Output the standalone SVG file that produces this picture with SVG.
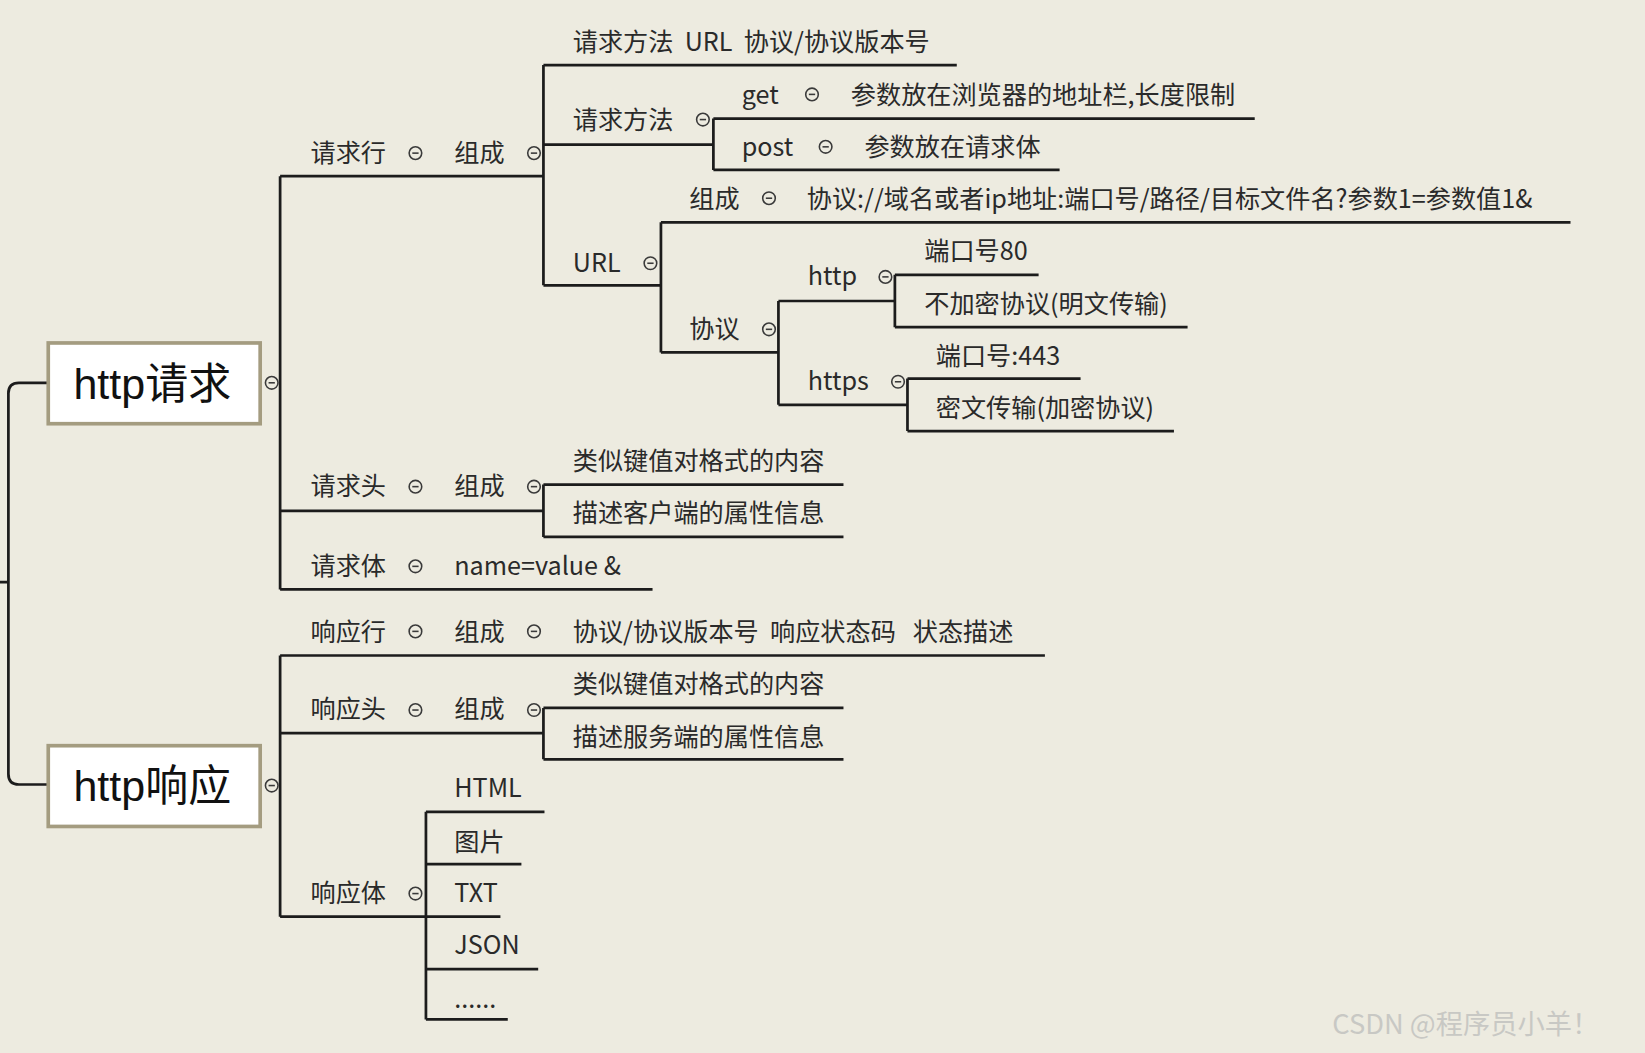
<svg xmlns="http://www.w3.org/2000/svg" xmlns:xlink="http://www.w3.org/1999/xlink" width="1645" height="1053" viewBox="0 0 1645 1053">
<style>
.t{font-family:"Noto Sans CJK SC","Liberation Sans",sans-serif;font-size:24px;fill:#2a2a2a}
.b{font-family:"Liberation Sans","Noto Sans CJK SC",sans-serif;font-size:41px;fill:#111}
.l{stroke:#1c1c1c;stroke-width:2.6;fill:none}
.box{fill:#fff;stroke:#a49c80;stroke-width:3.5}
.c{fill:none;stroke:#3a3a3a;stroke-width:1.5}
</style>
<defs>
<g id="c"><circle class="c" r="6"/><line class="c" x1="-3" x2="3" y1="0" y2="0"/></g>
</defs>
<rect width="1645" height="1053" fill="#edebe0"/>
<g transform="scale(1.0491,1.0488)">
<g id="connectors">
<path class="l" d="M46,365 H18 Q8,365 8,375 V738 Q8,748 18,748 H46 M0,555 H8"/>
<path class="l" d="M267,168 V562 M267,168 H518 M267,487 H518 M267,562 H622"/>
<path class="l" d="M518,62 V272 M518,62 H912 M518,138 H680 M518,272 H630"/>
<path class="l" d="M680,113 V162 M680,113 H1196 M680,162 H1010"/>
<path class="l" d="M630,212 V336 M630,212 H1497 M630,336 H742"/>
<path class="l" d="M742,287 V386 M742,287 H853 M742,386 H865"/>
<path class="l" d="M853,262 V312 M853,262 H990 M853,312 H1132"/>
<path class="l" d="M865,361 V411 M865,361 H1030 M865,411 H1119"/>
<path class="l" d="M518,462 V512 M518,462 H804 M518,512 H804"/>
<path class="l" d="M267,625 V874 M267,625 H996 M267,699 H518 M267,874 H406"/>
<path class="l" d="M518,675 V724 M518,675 H804 M518,724 H804"/>
<path class="l" d="M406,774 V972 M406,774 H519 M406,824 H497 M406,874 H477 M406,924 H513 M406,972 H484"/>
</g>
<g id="n-req"><rect class="box" x="46" y="327" width="202" height="77"/><text class="b" x="70" y="380">http请求</text><use href="#c" x="259" y="365"/></g>
<g id="n-resp"><rect class="box" x="46" y="711" width="202" height="77"/><text class="b" x="70" y="764">http响应</text><use href="#c" x="259" y="749"/></g>
<g id="n-reqline"><text class="t" x="296" y="154">请求行</text><use href="#c" x="396" y="146"/><text class="t" x="433" y="154">组成</text><use href="#c" x="509" y="146"/></g>
<g id="n-rl1"><text class="t" x="546" y="49" xml:space="preserve">请求方法  URL  协议/协议版本号</text></g>
<g id="n-method"><text class="t" x="546" y="123">请求方法</text><use href="#c" x="670" y="114"/></g>
<g id="n-get"><text class="t" x="707" y="99">get</text><use href="#c" x="774" y="90"/><text class="t" x="811" y="99">参数放在浏览器的地址栏,长度限制</text></g>
<g id="n-post"><text class="t" x="707" y="149">post</text><use href="#c" x="787" y="140"/><text class="t" x="824" y="149">参数放在请求体</text></g>
<g id="n-url"><text class="t" x="546" y="259">URL</text><use href="#c" x="620" y="251"/></g>
<g id="n-urlc"><text class="t" x="657" y="198">组成</text><use href="#c" x="733" y="189"/><text class="t" x="769" y="198">协议://域名或者ip地址:端口号/路径/目标文件名?参数1=参数值1&amp;</text></g>
<g id="n-proto"><text class="t" x="657" y="322">协议</text><use href="#c" x="733" y="314"/></g>
<g id="n-http"><text class="t" x="770" y="272">http</text><use href="#c" x="844" y="264"/><text class="t" x="881" y="248">端口号80</text><text class="t" x="881" y="298">不加密协议(明文传输)</text></g>
<g id="n-https"><text class="t" x="770" y="372">https</text><use href="#c" x="856" y="364"/><text class="t" x="892" y="348">端口号:443</text><text class="t" x="892" y="398">密文传输(加密协议)</text></g>
<g id="n-reqhead"><text class="t" x="296" y="472">请求头</text><use href="#c" x="396" y="464"/><text class="t" x="433" y="472">组成</text><use href="#c" x="509" y="464"/><text class="t" x="546" y="448">类似键值对格式的内容</text><text class="t" x="546" y="498">描述客户端的属性信息</text></g>
<g id="n-reqbody"><text class="t" x="296" y="548">请求体</text><use href="#c" x="396" y="540"/><text class="t" x="433" y="548">name=value &amp;</text></g>
<g id="n-respline"><text class="t" x="296" y="611">响应行</text><use href="#c" x="396" y="602"/><text class="t" x="433" y="611">组成</text><use href="#c" x="509" y="602"/><text class="t" x="546" y="611" xml:space="preserve">协议/协议版本号  响应状态码   状态描述</text></g>
<g id="n-resphead"><text class="t" x="296" y="685">响应头</text><use href="#c" x="396" y="677"/><text class="t" x="433" y="685">组成</text><use href="#c" x="509" y="677"/><text class="t" x="546" y="661">类似键值对格式的内容</text><text class="t" x="546" y="711">描述服务端的属性信息</text></g>
<g id="n-respbody"><text class="t" x="296" y="860">响应体</text><use href="#c" x="396" y="852"/><text class="t" x="433" y="760">HTML</text><text class="t" x="433" y="811">图片</text><text class="t" x="433" y="860">TXT</text><text class="t" x="433" y="910">JSON</text><text class="t" x="433" y="961">......</text></g>
<text x="1270" y="986" style="font-family:'Noto Sans CJK SC','Liberation Sans',sans-serif;font-size:26px;fill:#c8c8c4">CSDN @程序员小羊！</text>
</g>
</svg>
